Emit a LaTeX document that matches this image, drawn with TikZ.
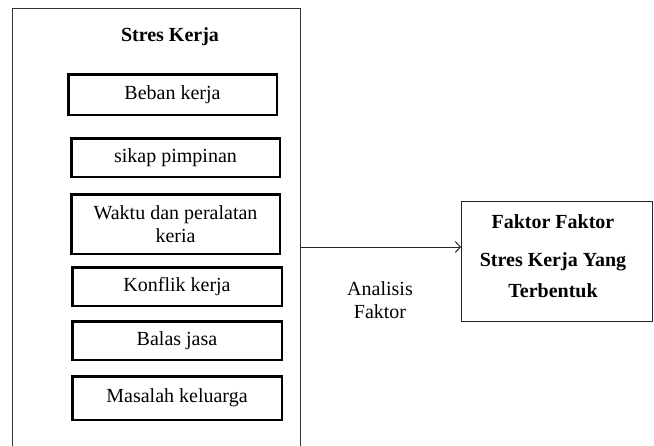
\documentclass[tikz,border=0pt]{standalone}
\usepackage{fontspec}
\setmainfont{Liberation Serif}
\usetikzlibrary{arrows.meta}
\begin{document}
\begin{tikzpicture}[x=1pt,y=-1pt,
  every node/.style={font=\fontsize{20}{23}\selectfont, align=center, inner sep=0pt},
  outerbox/.style={draw=black!80, line width=1pt, minimum width=288pt, minimum height=478pt},
  itembox/.style={draw=black, line width=2.5pt, minimum width=208.5pt},
  resbox/.style={draw=black!85, line width=1pt, minimum width=191pt, minimum height=120pt},
  conn/.style={draw=black!85, line width=1pt, -{Straight Barb[length=5pt,width=11pt,line width=1pt]}}
]
\useasboundingbox (0,0) rectangle (654,445);
\clip (0,0) rectangle (654,445);
\fill[white] (0,0) rectangle (654,445);
\node[outerbox] (outer) at (156,247) {};
\node[font=\fontsize{20}{23}\selectfont\bfseries] (title) at (170,37) {Stres Kerja};
\node[itembox, minimum height=40.5pt] (b1) at (172.5,94.5) {Beban kerja};
\node[itembox, minimum height=38.5pt] (b2) at (175.5,157.5) {sikap pimpinan};
\node[itembox, minimum height=59.5pt] (b3) at (175.5,224) {Waktu dan peralatan\\keria};
\node[itembox, minimum width=209.5pt, minimum height=38.5pt] (b4) at (177,286.5) {Konflik kerja};
\node[itembox, minimum width=209.5pt, minimum height=38.5pt] (b5) at (177,340.5) {Balas jasa};
\node[itembox, minimum width=209.5pt, minimum height=43.5pt] (b6) at (177,398) {Masalah keluarga};
\node[resbox] (res) at (557,261.5) {};
\node[font=\fontsize{20}{38}\selectfont\bfseries] (restext) at (553,256) {Faktor Faktor\\Stres Kerja Yang\\[-7pt]Terbentuk};
\node (lab) at (380,300) {Analisis\\Faktor};
\draw[conn] (outer.east) -- (outer.east -| res.west);
\end{tikzpicture}
\end{document}
